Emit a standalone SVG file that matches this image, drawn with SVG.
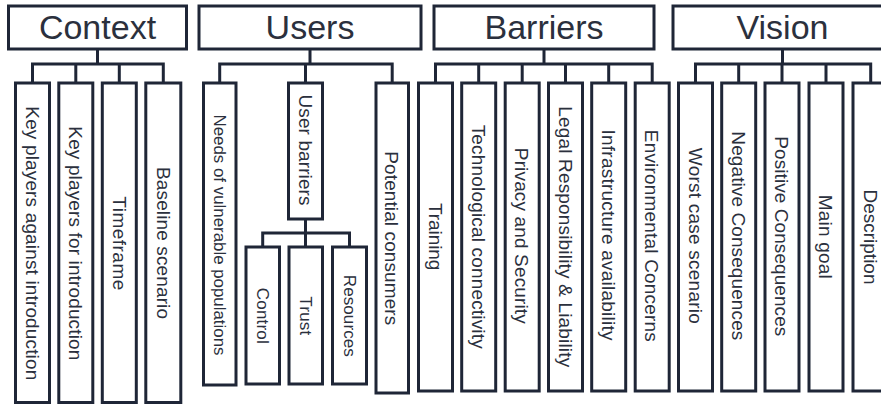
<svg xmlns="http://www.w3.org/2000/svg" width="881" height="405" viewBox="0 0 881 405">
<style>
.box{fill:#ffffff;stroke:#1f2637;stroke-width:3;}
.conn{fill:none;stroke:#1f2637;stroke-width:3;}
.hdr{font-family:"Liberation Sans",Arial,sans-serif;font-size:34px;fill:#2b303d;text-anchor:middle;}
.lbl{font-family:"Liberation Sans",Arial,sans-serif;font-size:19px;fill:#2b303d;text-anchor:middle;}
.sm{font-size:17px;}
</style>
<rect width="881" height="405" fill="#ffffff"/>
<g id="connectors">
<path class="conn" d="M97.5 49V64M32.5 83V64H163.3V83M75.8 64V83M119.3 64V83"/>
<path class="conn" d="M310 49V64M219.7 83V64H392.2V83M305.5 64V83"/>
<path class="conn" d="M305.5 219V233M262.7 247V233H349.5V247M305.5 233V247"/>
<path class="conn" d="M544 49V64M435.5 83V64H652.2V83M478.7 64V83M522.2 64V83M565.5 64V83M608.7 64V83"/>
<path class="conn" d="M782.5 49V64M695.5 83V64H870.7V83M738.7 64V83M782 64V83M826 64V83"/>
</g>
<g id="context"><rect class="box" x="8.5" y="6" width="178" height="43"/><text class="hdr" x="97.5" y="39">Context</text></g>
<g id="users"><rect class="box" x="199" y="6" width="222" height="43"/><text class="hdr" x="310" y="39">Users</text></g>
<g id="barriers"><rect class="box" x="434" y="6" width="220" height="43"/><text class="hdr" x="544" y="39">Barriers</text></g>
<g id="vision"><rect class="box" x="673" y="6" width="220" height="43"/><text class="hdr" x="782.5" y="39">Vision</text></g>

<g id="key-against"><rect class="box" x="15.5" y="83" width="34" height="319.5"/><text class="lbl" transform="translate(32.5,243.3) rotate(90)" y="6.7" textLength="274" lengthAdjust="spacing">Key players against introduction</text></g>
<g id="key-for"><rect class="box" x="58.8" y="83" width="34" height="319.5"/><text class="lbl" transform="translate(75.8,243.3) rotate(90)" y="6.7" textLength="234" lengthAdjust="spacing">Key players for introduction</text></g>
<g id="timeframe"><rect class="box" x="102.3" y="83" width="34" height="319.5"/><text class="lbl" transform="translate(119.3,243.3) rotate(90)" y="6.7" textLength="94" lengthAdjust="spacing">Timeframe</text></g>
<g id="baseline"><rect class="box" x="145.8" y="83" width="35" height="319.5"/><text class="lbl" transform="translate(163.3,243) rotate(90)" y="6.7" textLength="152" lengthAdjust="spacing">Baseline scenario</text></g>

<g id="needs"><rect class="box" x="203.5" y="83" width="32.5" height="302"/><text class="lbl sm" transform="translate(219.7,235) rotate(90)" y="6" textLength="241" lengthAdjust="spacingAndGlyphs">Needs of vulnerable populations</text></g>
<g id="user-barriers"><rect class="box" x="288.5" y="83" width="34" height="136"/><text class="lbl" transform="translate(305.5,150) rotate(90)" y="6.7" textLength="111" lengthAdjust="spacing">User barriers</text></g>
<g id="potential"><rect class="box" x="376" y="83" width="32.5" height="310"/><text class="lbl" transform="translate(392.2,238.3) rotate(90)" y="6.7" textLength="174" lengthAdjust="spacing">Potential consumers</text></g>
<g id="control"><rect class="box" x="246" y="247" width="33.5" height="137"/><text class="lbl sm" transform="translate(262.7,315.8) rotate(90)" y="6" textLength="56" lengthAdjust="spacing">Control</text></g>
<g id="trust"><rect class="box" x="289" y="247" width="33.5" height="137"/><text class="lbl sm" transform="translate(305.5,315.8) rotate(90)" y="6" textLength="39" lengthAdjust="spacing">Trust</text></g>
<g id="resources"><rect class="box" x="332.5" y="247" width="34" height="137"/><text class="lbl sm" transform="translate(349.5,315.8) rotate(90)" y="6" textLength="82" lengthAdjust="spacing">Resources</text></g>

<g id="training"><rect class="box" x="418.5" y="83" width="34" height="308"/><text class="lbl" transform="translate(435.5,236.7) rotate(90)" y="6.7" textLength="67.5" lengthAdjust="spacing">Training</text></g>
<g id="tech"><rect class="box" x="461.7" y="83" width="34" height="308"/><text class="lbl" transform="translate(478.7,236.7) rotate(90)" y="6.7" textLength="224" lengthAdjust="spacing">Technological connectivity</text></g>
<g id="privacy"><rect class="box" x="505.2" y="83" width="34" height="308"/><text class="lbl" transform="translate(522.2,235.8) rotate(90)" y="6.7" textLength="176" lengthAdjust="spacing">Privacy and Security</text></g>
<g id="legal"><rect class="box" x="548.5" y="83" width="34" height="308"/><text class="lbl" transform="translate(565.5,236.7) rotate(90)" y="6.7" textLength="261" lengthAdjust="spacing">Legal Responsibility &amp; Liability</text></g>
<g id="infra"><rect class="box" x="591.7" y="83" width="34" height="308"/><text class="lbl" transform="translate(608.7,235) rotate(90)" y="6.7" textLength="211" lengthAdjust="spacing">Infrastructure  availability</text></g>
<g id="env"><rect class="box" x="635.2" y="83" width="34" height="308"/><text class="lbl" transform="translate(652.2,235.8) rotate(90)" y="6.7" textLength="212" lengthAdjust="spacing">Environmental  Concerns</text></g>

<g id="worst"><rect class="box" x="678.5" y="83" width="34" height="308"/><text class="lbl" transform="translate(695.5,235.8) rotate(90)" y="6.7" textLength="176" lengthAdjust="spacing">Worst case scenario</text></g>
<g id="negative"><rect class="box" x="721.7" y="83" width="34" height="308"/><text class="lbl" transform="translate(738.7,235.8) rotate(90)" y="6.7" textLength="209" lengthAdjust="spacing">Negative Consequences</text></g>
<g id="positive"><rect class="box" x="765" y="83" width="34" height="308"/><text class="lbl" transform="translate(782,236.3) rotate(90)" y="6.7" textLength="200" lengthAdjust="spacing">Positive Consequences</text></g>
<g id="main-goal"><rect class="box" x="809" y="83" width="34" height="308"/><text class="lbl" transform="translate(826,236.7) rotate(90)" y="6.7" textLength="84" lengthAdjust="spacing">Main goal</text></g>
<g id="description"><rect class="box" x="853" y="83" width="36" height="308"/><text class="lbl" transform="translate(870.7,237) rotate(90)" y="6.7" textLength="95" lengthAdjust="spacing">Description</text></g>
</svg>
